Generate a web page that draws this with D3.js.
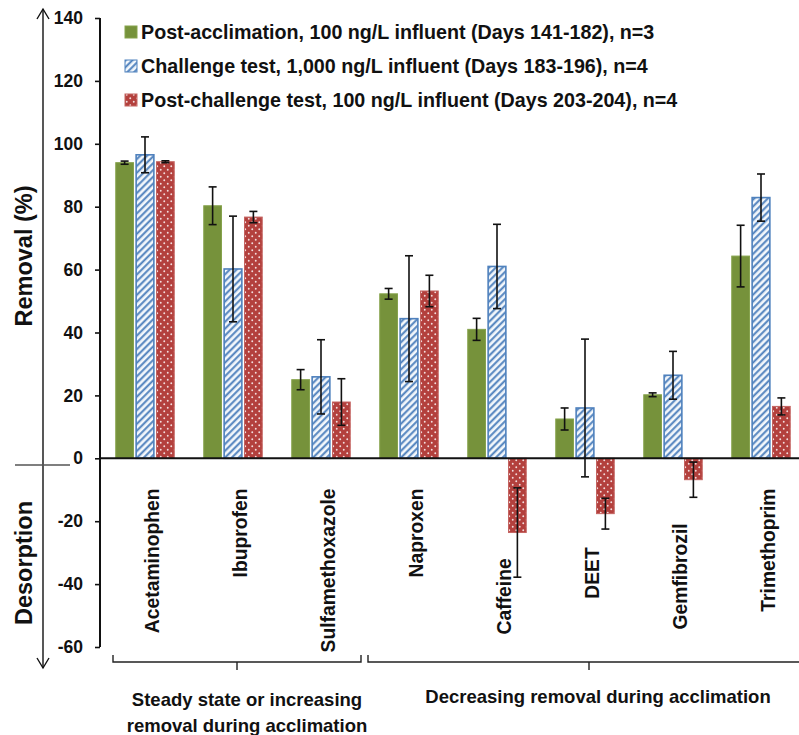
<!DOCTYPE html>
<html>
<head>
<meta charset="utf-8">
<script src="https://cdn.jsdelivr.net/npm/d3@7/dist/d3.min.js"></script>
<style>
  html, body { margin: 0; padding: 0; background: #fff; }
  svg { display: block; font-family: "Liberation Sans", Arial, Helvetica, sans-serif; }
  text { font-weight: bold; fill: #111; }
</style>
</head>
<body>
<svg id="chart" width="799" height="735"></svg>
<script>
// Compounds on the category axis
const categories = ["Acetaminophen", "Ibuprofen", "Sulfamethoxazole", "Naproxen",
                    "Caffeine", "DEET", "Gemfibrozil", "Trimethoprim"];

// Series names (legend)
const seriesNames = [
  "Post-acclimation, 100 ng/L influent (Days 141-182), n=3",
  "Challenge test, 1,000 ng/L influent (Days 183-196), n=4",
  "Post-challenge test, 100 ng/L influent (Days 203-204), n=4"
];

// Removal (%) means and error half-widths per series
const postAcclimation     = [94.0, 80.3, 25.0, 52.3, 41.0, 12.5, 20.2, 64.3];
const postAcclimationErr  = [0.5, 6.0, 3.2, 1.7, 3.5, 3.5, 0.6, 9.8];
const challengeTest       = [96.5, 60.2, 25.9, 44.4, 61.0, 16.0, 26.4, 82.9];
const challengeTestErr    = [5.7, 16.8, 11.8, 20.0, 13.4, 21.9, 7.6, 7.5];
const postChallenge       = [94.3, 76.7, 17.9, 53.2, -23.6, -17.6, -6.8, 16.5];
const postChallengeErr    = [0.3, 1.8, 7.4, 5.0, 14.2, 4.9, 5.6, 2.7];

// Y-axis ticks
const yTicks = [140, 120, 100, 80, 60, 40, 20, 0, -20, -40, -60];

// Category groupings shown by the brackets below the axis
const groupLabels = [
  ["Steady state or increasing", "removal during acclimation"],
  ["Decreasing removal during acclimation"]
];
const groupMembers = [[0, 2], [3, 7]];

const seriesValues = [postAcclimation, challengeTest, postChallenge];
const seriesErrors = [postAcclimationErr, challengeTestErr, postChallengeErr];

const svg = d3.select("#chart");
const defs = svg.append("defs");

// Diagonal hatching for the challenge test series
const hatch = defs.append("pattern")
  .attr("id", "hatchBlue").attr("patternUnits", "userSpaceOnUse")
  .attr("width", 4.8).attr("height", 4.8)
  .attr("patternTransform", "rotate(45)");
hatch.append("rect").attr("width", 4.8).attr("height", 4.8).attr("fill", "#f4f8fc");
hatch.append("line").attr("x1", 1.2).attr("x2", 1.2).attr("y1", 0).attr("y2", 4.8)
  .attr("stroke", "#4f81bd").attr("stroke-width", 2);

// Dotted fill for the post-challenge series
const dots = defs.append("pattern")
  .attr("id", "dotsRed").attr("patternUnits", "userSpaceOnUse")
  .attr("width", 7).attr("height", 7);
dots.append("rect").attr("width", 7).attr("height", 7).attr("fill", "#b3403d");
[[1.75, 1.75], [5.25, 5.25]].forEach(([cx, cy]) =>
  dots.append("circle").attr("cx", cx).attr("cy", cy).attr("r", 0.95)
    .attr("fill", "#f3dede"));

const seriesStyle = [
  { fill: "#76923b", stroke: "#86a34c", sw: 1 },
  { fill: "url(#hatchBlue)", stroke: "#4f81bd", sw: 1.6 },
  { fill: "url(#dotsRed)", stroke: "#c46461", sw: 1 }
];

// Scales
const y = d3.scaleLinear().domain([-60, 140]).range([647, 18]);
const x = d3.scaleBand().domain(categories).range([101, 805]).padding(0);
const xInner = d3.scaleBand().domain(d3.range(3)).range([-29.25, 29.25]).paddingInner(0.13);

// Y axis with ticks on the left (plain hyphen for negatives)
const yAxis = d3.axisLeft(y).tickValues(yTicks).tickSize(5).tickPadding(12)
  .tickFormat(d => String(d));
const yG = svg.append("g").attr("transform", "translate(100,0)").call(yAxis);
yG.select(".domain").remove();
yG.selectAll(".tick line").attr("stroke", "#111").attr("stroke-width", 1.6);
yG.selectAll(".tick text").attr("font-size", 17.5).attr("font-weight", "bold")
  .attr("fill", "#111").attr("font-family", "Liberation Sans, Arial, sans-serif");
svg.append("line").attr("x1", 100).attr("x2", 100).attr("y1", y(140)).attr("y2", y(-60))
  .attr("stroke", "#111").attr("stroke-width", 2);

// Bars
const groups = svg.append("g").selectAll("g").data(categories).join("g")
  .attr("transform", d => `translate(${x(d) + x.bandwidth() / 2},0)`);

groups.each(function (cat, ci) {
  const g = d3.select(this);
  seriesValues.forEach((vals, si) => {
    const v = vals[ci];
    const st = seriesStyle[si];
    g.append("rect")
      .attr("x", xInner(si))
      .attr("width", xInner.bandwidth())
      .attr("y", Math.min(y(v), y(0)))
      .attr("height", Math.abs(y(v) - y(0)))
      .attr("fill", st.fill)
      .attr("stroke", st.stroke)
      .attr("stroke-width", st.sw);
  });
});

// Error bars
groups.each(function (cat, ci) {
  const g = d3.select(this);
  seriesValues.forEach((vals, si) => {
    const v = vals[ci], e = seriesErrors[si][ci];
    const cx = xInner(si) + xInner.bandwidth() / 2;
    const eb = g.append("g").attr("stroke", "#111").attr("stroke-width", 1.6);
    eb.append("line").attr("x1", cx).attr("x2", cx).attr("y1", y(v + e)).attr("y2", y(v - e));
    [v + e, v - e].forEach(t =>
      eb.append("line").attr("x1", cx - 4).attr("x2", cx + 4).attr("y1", y(t)).attr("y2", y(t)));
  });
});

// Zero line
svg.append("line").attr("x1", 99).attr("x2", 799).attr("y1", y(0)).attr("y2", y(0))
  .attr("stroke", "#111").attr("stroke-width", 2);

// Category labels, rotated; dropped lower where bars extend below zero
const labelTop = { Caffeine: -31.8, DEET: -28.3, Gemfibrozil: -20.7 };
svg.append("g").selectAll("text").data(categories).join("text")
  .attr("transform", d => `translate(${x(d) + x.bandwidth() / 2 + 7},${y(labelTop[d] ?? -9.6)}) rotate(-90)`)
  .attr("text-anchor", "end")
  .attr("dy", "0.36em")
  .attr("font-size", 19.3)
  .text(d => d);

// Group brackets beneath the labels
groupMembers.forEach(([a, b], gi) => {
  const x0 = gi === 0 ? x(categories[a]) + 12 : x(categories[a]) + 3;
  const x1 = gi === 0 ? x(categories[b]) + x.bandwidth() - 4 : 810;
  const mid = (x0 + x1) / 2;
  const by = 662;
  svg.append("path")
    .attr("d", `M${x0},${by - 7}V${by}H${x1}V${by - 7}M${mid},${by}V${by + 8}`)
    .attr("fill", "none").attr("stroke", "#222").attr("stroke-width", 1.4);
  const tx = gi === 0 ? mid + 10 : mid + 9;
  const lines = groupLabels[gi];
  lines.forEach((t, li) => {
    svg.append("text").attr("x", tx).attr("y", (gi === 0 ? 706 : 703) + li * 26)
      .attr("text-anchor", "middle").attr("font-size", 18.5).text(t);
  });
});

// Axis titles with direction arrows
const arrowX = 43;
svg.append("line").attr("x1", arrowX).attr("x2", arrowX).attr("y1", 9).attr("y2", 668)
  .attr("stroke", "#111").attr("stroke-width", 1.4);
svg.append("path").attr("d", `M${arrowX - 6},${19}L${arrowX},${9}L${arrowX + 6},${19}`)
  .attr("fill", "none").attr("stroke", "#111").attr("stroke-width", 1.4);
svg.append("path").attr("d", `M${arrowX - 6},${658}L${arrowX},${668}L${arrowX + 6},${658}`)
  .attr("fill", "none").attr("stroke", "#111").attr("stroke-width", 1.4);
svg.append("line").attr("x1", 15).attr("x2", 70).attr("y1", 465).attr("y2", 465)
  .attr("stroke", "#555").attr("stroke-width", 1.6);

svg.append("text").attr("transform", "translate(24,256) rotate(-90)")
  .attr("text-anchor", "middle").attr("dy", "0.36em").attr("font-size", 23.5).text("Removal (%)");
svg.append("text").attr("transform", "translate(24,563) rotate(-90)")
  .attr("text-anchor", "middle").attr("dy", "0.36em").attr("font-size", 23.5).text("Desorption");

// Legend
const legend = svg.append("g").selectAll("g").data(seriesNames).join("g")
  .attr("transform", (d, i) => `translate(125,${32 + i * 34})`);
legend.append("rect").attr("x", 0).attr("y", -6).attr("width", 12).attr("height", 12)
  .attr("fill", (d, i) => seriesStyle[i].fill)
  .attr("stroke", (d, i) => seriesStyle[i].stroke)
  .attr("stroke-width", 1);
legend.append("text").attr("x", 16).attr("dy", "0.36em").attr("font-size", 19.7).text(d => d);
</script>
</body>
</html>
